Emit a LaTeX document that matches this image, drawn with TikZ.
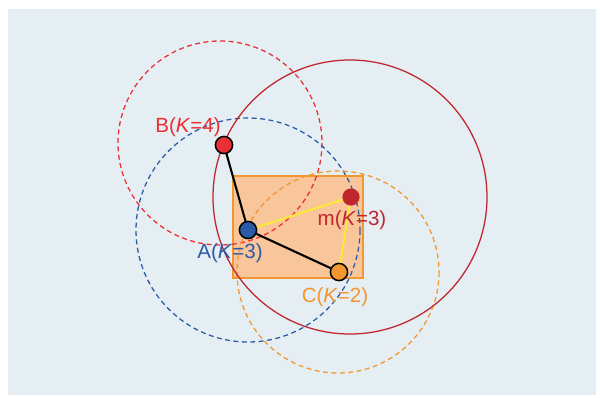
\documentclass[tikz,border=0pt]{standalone}
\usepackage{fontspec}
\setmainfont{Liberation Sans}
\usetikzlibrary{positioning}
\definecolor{bgblue}{HTML}{E5EEF3}
\definecolor{kred}{HTML}{EA2F35}
\definecolor{kblue}{HTML}{2A5AA8}
\definecolor{korange}{HTML}{F2962F}
\definecolor{kdark}{HTML}{C0272D}
\definecolor{kyellow}{HTML}{FCE83A}
\definecolor{boxfill}{HTML}{F9C59B}
\tikzset{
  %% point markers
  pt/.style    = {circle, draw=black, line width=1.1pt, minimum size=0.43cm, inner sep=0pt},
  %% neighbourhood circles
  ring/.style  = {line width=0.9pt, dash pattern=on 3.5pt off 2.5pt},
  lbl/.style   = {inner sep=0pt, font=\fontsize{14.6}{16}\selectfont},
  edge/.style  = {line width=1.5pt},
}

\begin{document}
\begin{tikzpicture}[x=0.025cm, y=-0.025cm]
\useasboundingbox (0,0) rectangle (600,397);
\fill[bgblue] (8,9) rectangle (596,395);

%% ---- box spanned by the points ----
\draw[korange, fill=boxfill, line width=1.6pt] (233,176) rectangle (363,278);

%% ---- circles ----
\draw[ring, kred]    (220,143) circle (102);
\draw[ring, kblue]   (248,230) circle (112);
\draw[ring, korange] (338,272) circle (101);
\draw[kdark, line width=0.9pt] (350,197) circle (137);

%% ---- points ----
\node[pt, fill=kred]    (B) at (224,145) {};
\node[pt, fill=kblue]   (A) at (248,230) {};
\node[pt, fill=korange] (C) at (339,272) {};
\node[circle, fill=kdark, minimum size=0.43cm, inner sep=0pt] (m) at (351,197) {};

%% yellow links to m
\draw[edge, kyellow] (A) -- (m);
\draw[edge, kyellow] (m) -- (C);
%% black links from A
\draw[edge, black] (B) -- (A);
\draw[edge, black] (A) -- (C);

%% ---- labels ----
\node[lbl, text=kred]    (Blbl) at (188,127) {B(\textit{K}=4)};
\node[lbl, text=kblue]   (Albl) at (230,253) {A(\textit{K}=3)};
\node[lbl, text=kdark]   (mlbl) at (352,220) {m(\textit{K}=3)};
\node[lbl, text=korange] (Clbl) at (335,297) {C(\textit{K}=2)};

\end{tikzpicture}
\end{document}
